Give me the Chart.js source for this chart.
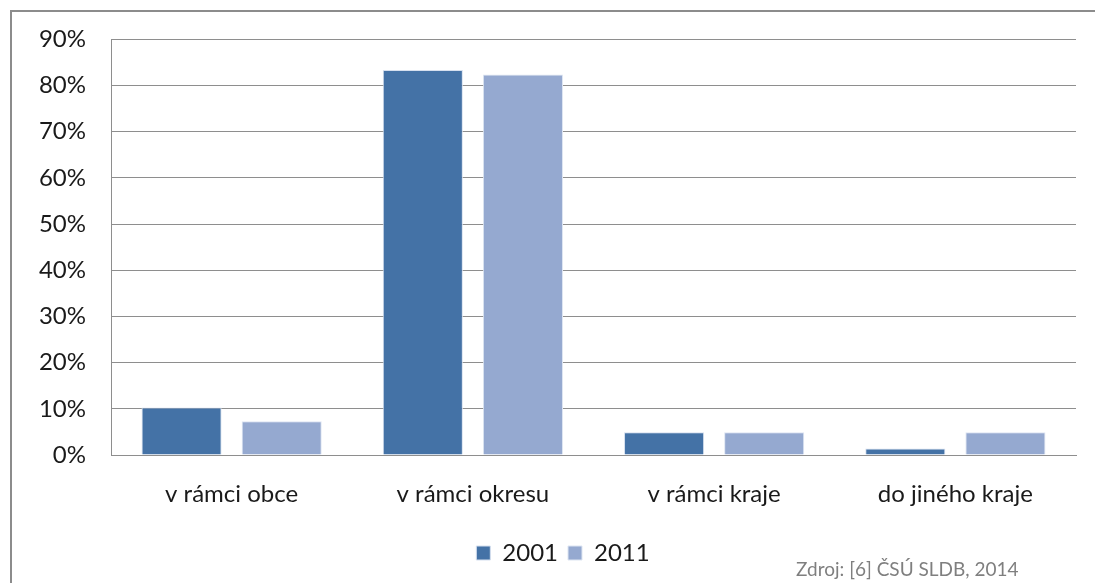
<!DOCTYPE html>
<html>
<head>
<meta charset="utf-8">
<script src="https://cdn.jsdelivr.net/npm/chart.js"></script>
<style>
    html, body { margin: 0; padding: 0; background: #fff; }
    #wrap { position: relative; width: 1095px; height: 583px; overflow: hidden; }
    #frame { position: absolute; left: 10px; top: 10px; width: 1100px; height: 600px;
             border-left: 2px solid #8c8c8c; border-top: 2px solid #8c8c8c; }
    #chart { position: absolute; left: 0; top: 0; }
    #source { position: absolute; left: 796px; top: 557px; font-family: Lato, sans-serif;
              font-size: 19px; color: #7f7f7f; white-space: nowrap; }
</style>
</head>
<body>
<div id="wrap">
    <div id="frame"></div>
    <canvas id="chart" width="1095" height="583"></canvas>
    <div id="source">Zdroj: [6] ČSÚ SLDB, 2014</div>
</div>
<script>
// Data
const categories = ['v rámci obce', 'v rámci okresu', 'v rámci kraje', 'do jiného kraje'];
const values2001 = [10.3, 83.4, 4.9, 1.4];
const values2011 = [7.3, 82.4, 4.9, 4.9];
const seriesNames = ['2001', '2011'];

const fontFamily = 'Lato, sans-serif';

// legend in the original sits a bit right of the canvas centre
const legendShift = {
    id: 'legendShift',
    afterLayout(chart) {
        chart.legend.left += 25;
        chart.legend.right += 25;
    }
};

new Chart(document.getElementById('chart'), {
    type: 'bar',
    data: {
        labels: categories,
        datasets: [
            {
                label: seriesNames[0],
                data: values2001,
                backgroundColor: '#4472a6',
                borderColor: '#d6e0ef',
                borderWidth: 1,
                categoryPercentage: 0.83,
                barPercentage: 0.8
            },
            {
                label: seriesNames[1],
                data: values2011,
                backgroundColor: '#95a9d0',
                borderColor: '#dde5f2',
                borderWidth: 1,
                categoryPercentage: 0.83,
                barPercentage: 0.8
            }
        ]
    },
    options: {
        responsive: false,
        animation: false,
        layout: { padding: { top: 37, right: 19, left: 0, bottom: 8 } },
        scales: {
            x: {
                grid: { display: false, drawTicks: false },
                border: { color: '#8e8e8e', width: 1 },
                ticks: { color: '#1a1a1a', font: { family: fontFamily, size: 24 }, padding: 25 },
                afterFit: (scale) => { scale.height = 76; }
            },
            y: {
                min: 0,
                max: 90,
                grid: { color: '#8e8e8e', lineWidth: 1, drawTicks: false },
                border: { color: '#8e8e8e', width: 1 },
                ticks: {
                    stepSize: 10,
                    color: '#1a1a1a',
                    font: { family: fontFamily, size: 24 },
                    padding: 25,
                    callback: (v) => v + '%'
                },
                afterFit: (scale) => { scale.width = 111; }
            }
        },
        plugins: {
            legend: {
                position: 'bottom',
                labels: {
                    color: '#1a1a1a',
                    font: { family: fontFamily, size: 24 },
                    boxWidth: 14,
                    boxHeight: 14,
                    padding: 10
                }
            },
            tooltip: { enabled: false }
        }
    },
    plugins: [legendShift]
});
</script>
</body>
</html>
